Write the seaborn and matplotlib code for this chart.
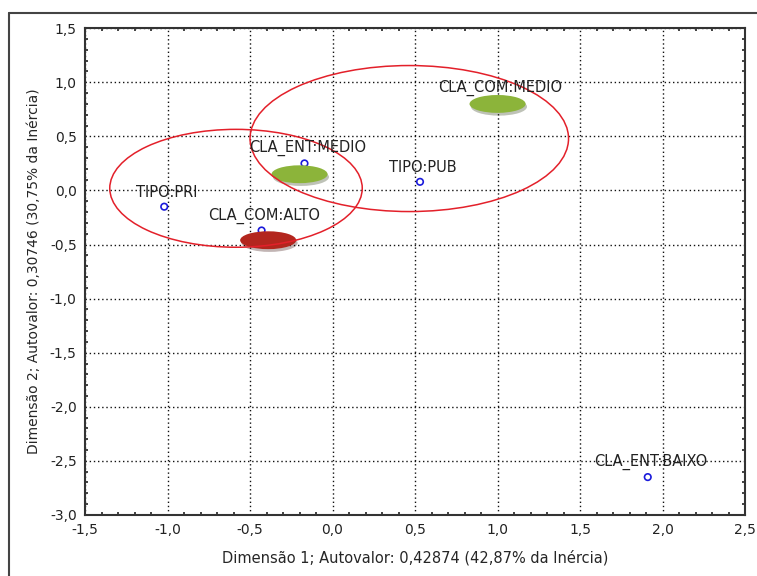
import numpy as np
import pandas as pd
import seaborn as sns
import matplotlib.pyplot as plt
from matplotlib.patches import Ellipse
from matplotlib.ticker import FuncFormatter, MultipleLocator
import matplotlib.patheffects as pe

# category coordinates
categorias = ['TIPO:PRI', 'CLA_COM:ALTO', 'CLA_ENT:MEDIO', 'TIPO:PUB', 'CLA_COM:MEDIO', 'CLA_ENT:BAIXO']
dim1 = [-1.02, -0.43, -0.17, 0.53, 1.00, 1.91]
dim2 = [-0.15, -0.37, 0.25, 0.08, 0.81, -2.65]

# hand-drawn highlights
destaques_x = [-0.39, -0.20, 1.00]
destaques_y = [-0.46, 0.15, 0.80]
destaques_cor = ['#b3261e', '#8cb43a', '#8cb43a']

# red groupings: centre and size
grupo_x = [-0.585, 0.465]
grupo_y = [0.02, 0.48]
grupo_w = [1.53, 1.93]
grupo_h = [1.09, 1.35]

x_ticks = [-1.5, -1.0, -0.5, 0.0, 0.5, 1.0, 1.5, 2.0, 2.5]
y_ticks = [-3.0, -2.5, -2.0, -1.5, -1.0, -0.5, 0.0, 0.5, 1.0, 1.5]

df = pd.DataFrame({'cat': categorias, 'd1': dim1, 'd2': dim2})

sns.set_style('white')
plt.rcParams['font.family'] = ['DejaVu Sans']

fig = plt.figure(figsize=(7.57, 5.76), dpi=100)
ax = fig.add_axes([0.1123, 0.106, 0.872, 0.845])

# outer frame (top and left edges visible)
fig.add_artist(plt.Line2D([0.012, 1.0], [0.977, 0.977], transform=fig.transFigure, color='#444444', lw=1.5))
fig.add_artist(plt.Line2D([0.012, 0.012], [0.0, 0.977], transform=fig.transFigure, color='#444444', lw=1.5))

sns.scatterplot(data=df, x='d1', y='d2', ax=ax, marker='o', s=22,
                facecolors='none', edgecolor='#1a1adb', linewidth=1.2, zorder=3)

for cx, cy, cor in zip(destaques_x, destaques_y, destaques_cor):
    el = Ellipse((cx, cy), 0.34, 0.165, facecolor=cor, edgecolor='none', zorder=4,
                 path_effects=[pe.SimplePatchShadow(offset=(1, -2), alpha=0.3), pe.Normal()])
    ax.add_patch(el)

for cx, cy, w, h in zip(grupo_x, grupo_y, grupo_w, grupo_h):
    ax.add_patch(Ellipse((cx, cy), w, h, facecolor='none', edgecolor='#e3202a', lw=1.1, zorder=5))

for _, row in df.iterrows():
    ax.annotate(row['cat'], (row['d1'], row['d2']), xytext=(2, 5), textcoords='offset points',
                ha='center', va='bottom', fontsize=10.5, color='#222222', zorder=6)

ax.set_xlim(-1.5, 2.5)
ax.set_ylim(-3.0, 1.5)
ax.set_xticks(x_ticks)
ax.set_yticks(y_ticks)
fmt = FuncFormatter(lambda v, p: f'{v:.1f}'.replace('.', ','))
ax.xaxis.set_major_formatter(fmt)
ax.yaxis.set_major_formatter(fmt)
ax.xaxis.set_minor_locator(MultipleLocator(0.1))
ax.yaxis.set_minor_locator(MultipleLocator(0.1))
ax.tick_params(which='both', direction='in', top=True, right=True, bottom=True, left=True,
               labelsize=10, colors='#222222')
ax.tick_params(which='major', length=0, pad=6)
ax.tick_params(which='minor', length=2.5, width=1.2)

ax.grid(True, which='major', color='#111111', linestyle=(0, (1, 2)), lw=1.0)
for s in ax.spines.values():
    s.set_color('#333333')
    s.set_linewidth(1.5)

ax.set_xlabel('Dimensão 1; Autovalor: 0,42874 (42,87% da Inércia)', fontsize=10.5, labelpad=9)
ax.set_ylabel('Dimensão 2; Autovalor: 0,30746 (30,75% da Inércia)', fontsize=10, labelpad=6)

plt.savefig('out.png', dpi=100)
plt.close()
